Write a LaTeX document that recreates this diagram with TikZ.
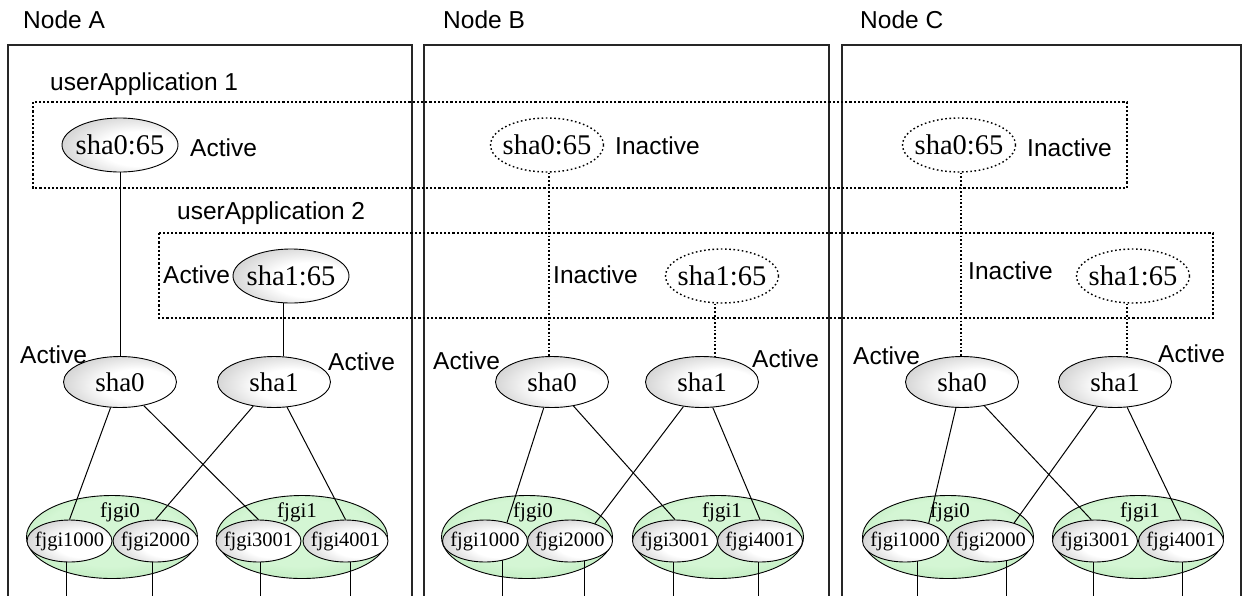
\documentclass[tikz,border=0pt]{standalone}
\usepackage{fontspec}
\setmainfont{Liberation Serif}
\newfontfamily\labsans{Liberation Sans}
\usetikzlibrary{shapes.geometric}
\pgfdeclarelayer{bglayer}
\pgfdeclarelayer{greenlayer}
\pgfdeclarelayer{linelayer}
\pgfsetlayers{bglayer,greenlayer,linelayer,main}
\definecolor{gin}{RGB}{212,246,212}
\definecolor{gout}{RGB}{140,208,140}
\definecolor{shout}{RGB}{150,150,150}
\pgfdeclareradialshading{grayball}{\pgfpoint{12bp}{-5bp}}{color(0bp)=(white); color(16bp)=(white); color(52bp)=(shout)}
\pgfdeclareradialshading{greenball}{\pgfpoint{0bp}{4bp}}{color(0bp)=(gin); color(20bp)=(gin); color(52bp)=(gout)}
\tikzset{
  lbl/.style={font=\labsans\fontsize{24.5}{28}\selectfont, inner sep=0pt, anchor=base west},
  nodebox/.style={line width=1.6pt, draw=black!85},
  appbox/.style={line width=2.2pt, dash pattern=on 2.2pt off 2pt},
  sha65/.style={ellipse, draw, line width=0.9pt, shade, shading=grayball, minimum width=116, minimum height=54, inner xsep=-8pt, inner ysep=0pt, font=\fontsize{28.5}{30}\selectfont},
  sha65off/.style={ellipse, draw, line width=1.4pt, dash pattern=on 1.6pt off 2.6pt, fill=white, minimum width=113, minimum height=54, inner xsep=-8pt, inner ysep=0pt, font=\fontsize{28.5}{30}\selectfont},
  shanode/.style={ellipse, draw, line width=0.9pt, shade, shading=grayball, minimum width=113, minimum height=51, inner sep=0pt, font=\fontsize{27}{30}\selectfont},
  grp/.style={ellipse, draw, line width=0.9pt, shade, shading=greenball, minimum width=171, minimum height=83, inner sep=0pt},
  grplab/.style={inner sep=0pt, font=\fontsize{21}{24}\selectfont},
  fj/.style={ellipse, draw, line width=0.9pt, shade, shading=grayball, minimum width=85, minimum height=42, inner xsep=-10pt, inner ysep=0pt, font=\fontsize{20.5}{23}\selectfont},
  conn/.style={line width=1pt},
  dconn/.style={line width=1.7pt, dash pattern=on 1.7pt off 2pt},
}
\begin{document}
\begin{tikzpicture}[x=1pt,y=-1pt]
\useasboundingbox (0,0) rectangle (1244,595);
\begin{pgfonlayer}{bglayer}
\fill[white] (0,0) rectangle (1244,595);
\end{pgfonlayer}

% titles
\node[lbl] (tA) at (23,28) {Node A};
\node[lbl] (tB) at (443,28) {Node B};
\node[lbl] (tC) at (860,28) {Node C};

% node boxes
\draw[nodebox] (8,600) -- (8,45) -- (412,45) -- (412,600);
\draw[nodebox] (424,600) -- (424,45) -- (829,45) -- (829,600);
\draw[nodebox] (842,600) -- (842,45) -- (1241,45) -- (1241,600);

% userApplication boxes
\node[lbl] (ua1) at (50,90) {userApplication 1};
\draw[appbox] (33,102) rectangle (1127,188);
\node[lbl] (ua2) at (177,219) {userApplication 2};
\draw[appbox] (159,233) rectangle (1213,318);

% ---------- Node A ----------
\node[sha65] (sA065) at (120,145) {sha0:65};
\node[lbl] (lA1) at (190,156) {Active};
\node[sha65] (sA165) at (291,276) {sha1:65};
\node[lbl] (lA2) at (163,283) {Active};
\node[shanode] (sA0) at (120,382) {sha0};
\node[shanode] (sA1) at (274,382) {sha1};
\node[lbl] (lA3) at (20,363) {Active};
\node[lbl] (lA4) at (328,370) {Active};

% ---------- Node B ----------
\node[sha65off] (sB065) at (547,145) {sha0:65};
\node[lbl] (lB1) at (615,154) {Inactive};
\node[sha65off] (sB165) at (722,276) {sha1:65};
\node[lbl] (lB2) at (553,283) {Inactive};
\node[shanode] (sB0) at (552,382) {sha0};
\node[shanode] (sB1) at (702,382) {sha1};
\node[lbl] (lB3) at (433,369) {Active};
\node[lbl] (lB4) at (752,367) {Active};

% ---------- Node C ----------
\node[sha65off] (sC065) at (959,145) {sha0:65};
\node[lbl] (lC1) at (1027,156) {Inactive};
\node[sha65off] (sC165) at (1133,276) {sha1:65};
\node[lbl] (lC2) at (968,279) {Inactive};
\node[shanode] (sC0) at (962,382) {sha0};
\node[shanode] (sC1) at (1115,382) {sha1};
\node[lbl] (lC3) at (853,364) {Active};
\node[lbl] (lC4) at (1158,362) {Active};

% vertical connectors sha:65 -> sha
\draw[conn] (sA065) -- (sA0);
\coordinate (uA1) at ([xshift=-8pt]sA165.south);
\draw[conn] (uA1) -- (uA1 |- sA1.north);
\coordinate (uB0) at ([xshift=2pt]sB065.south);
\draw[dconn] (uB0) -- (uB0 |- sB0.north);
\coordinate (uB1) at ([xshift=-7pt]sB165.south);
\draw[dconn] (uB1) -- (uB1 |- sB1.north);
\coordinate (uC0) at ([xshift=2pt]sC065.south);
\draw[dconn] (uC0) -- (uC0 |- sC0.north);
\coordinate (uC1) at ([xshift=-6pt]sC165.south);
\draw[dconn] (uC1) -- (uC1 |- sC1.north);

% green groups
\begin{pgfonlayer}{greenlayer}
\node[grp] (gA0) at (112,537) {};
\node[grp] (gA1) at (302,537) {};
\node[grp] (gB0) at (527,537) {};
\node[grp] (gB1) at (718,537) {};
\node[grp] (gC0) at (948,537) {};
\node[grp] (gC1) at (1138,537) {};
\end{pgfonlayer}
\node[grplab] (gA0l) at (120,512) {fjgi0};
\node[grplab] (gA1l) at (297,512) {fjgi1};
\node[grplab] (gB0l) at (533,512) {fjgi0};
\node[grplab] (gB1l) at (722,512) {fjgi1};
\node[grplab] (gC0l) at (950,512) {fjgi0};
\node[grplab] (gC1l) at (1140,512) {fjgi1};

% interfaces
\node[fj] (fA1000) at (69.5,541) {fjgi1000};
\node[fj] (fA2000) at (155.5,541) {fjgi2000};
\node[fj] (fA3001) at (258.5,541) {fjgi3001};
\node[fj] (fA4001) at (345.5,541) {fjgi4001};
\node[fj] (fB1000) at (485,541) {fjgi1000};
\node[fj] (fB2000) at (570,541) {fjgi2000};
\node[fj] (fB3001) at (675,541) {fjgi3001};
\node[fj] (fB4001) at (760,541) {fjgi4001};
\node[fj] (fC1000) at (905,541) {fjgi1000};
\node[fj] (fC2000) at (991,541) {fjgi2000};
\node[fj] (fC3001) at (1095,541) {fjgi3001};
\node[fj] (fC4001) at (1181,541) {fjgi4001};

% bottom free ends
\coordinate (bA1) at (66,600);
\coordinate (bA2) at (152,600);
\coordinate (bA3) at (260,600);
\coordinate (bA4) at (350,600);
\coordinate (bB1) at (502,600);
\coordinate (bB2) at (584,600);
\coordinate (bB3) at (673,600);
\coordinate (bB4) at (758,600);
\coordinate (bC1) at (917,600);
\coordinate (bC2) at (1006,600);
\coordinate (bC3) at (1093,600);
\coordinate (bC4) at (1182,600);

\begin{pgfonlayer}{linelayer}
\draw[conn] (sA0) -- (fA1000.north);
\draw[conn] (sA0) -- (fA3001.north);
\draw[conn] (sA1) -- (fA2000.north);
\draw[conn] (sA1) -- (fA4001.north);
\draw[conn] (sB0) -- (fB1000.40);
\draw[conn] (sB0) -- (fB3001.north);
\draw[conn] (sB1) -- (fB2000.35);
\draw[conn] (sB1) -- (fB4001.north);
\draw[conn] (sC0) -- (fC1000.37);
\draw[conn] (sC0) -- (fC3001.100);
\draw[conn] (sC1) -- (fC2000.38);
\draw[conn] (sC1) -- (fC4001.north);
\draw[conn] (fA1000.center -| bA1) -- (bA1);
\draw[conn] (fA2000.center -| bA2) -- (bA2);
\draw[conn] (fA3001.center -| bA3) -- (bA3);
\draw[conn] (fA4001.center -| bA4) -- (bA4);
\draw[conn] (fB1000.center -| bB1) -- (bB1);
\draw[conn] (fB2000.center -| bB2) -- (bB2);
\draw[conn] (fB3001.center -| bB3) -- (bB3);
\draw[conn] (fB4001.center -| bB4) -- (bB4);
\draw[conn] (fC1000.center -| bC1) -- (bC1);
\draw[conn] (fC2000.center -| bC2) -- (bC2);
\draw[conn] (fC3001.center -| bC3) -- (bC3);
\draw[conn] (fC4001.center -| bC4) -- (bC4);
\end{pgfonlayer}
\end{tikzpicture}
\end{document}
